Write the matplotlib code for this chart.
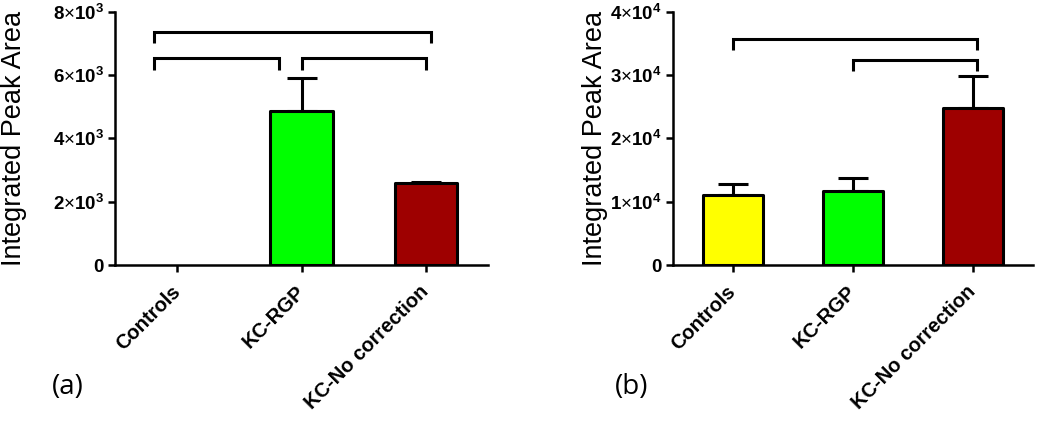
import matplotlib
matplotlib.use("Agg")
import matplotlib.pyplot as plt

plt.rcParams['font.family'] = ['Liberation Sans', 'DejaVu Sans']
plt.rcParams['mathtext.fontset'] = 'custom'
plt.rcParams['mathtext.rm'] = 'Liberation Sans'
plt.rcParams['mathtext.bf'] = 'Liberation Sans:bold'
plt.rcParams['mathtext.it'] = 'Liberation Sans:italic'

categories = ["Controls", "KC-RGP", "KC-No correction"]
colors = ["#FFFF00", "#00FF00", "#9E0000"]

# panel (a)
values_a = [0, 4850, 2580]
errors_a = [0, 1055, 50]
yticks_a = [0, 2000, 4000, 6000, 8000]
yticklabels_a = ["0", r"$\mathbf{2}{\times}\mathbf{10^{3}}$", r"$\mathbf{4}{\times}\mathbf{10^{3}}$",
                 r"$\mathbf{6}{\times}\mathbf{10^{3}}$", r"$\mathbf{8}{\times}\mathbf{10^{3}}$"]
# brackets: (x_left, x_right, y_top, y_leg_end)
brackets_a = [(-0.19, 2.04, 7350, 7020), (-0.19, 0.82, 6550, 6170), (1.0, 2.0, 6550, 6170)]

# panel (b)
values_b = [11050, 11690, 24750]
errors_b = [1700, 2000, 5100]
yticks_b = [0, 10000, 20000, 30000, 40000]
yticklabels_b = ["0", r"$\mathbf{1}{\times}\mathbf{10^{4}}$", r"$\mathbf{2}{\times}\mathbf{10^{4}}$",
                 r"$\mathbf{3}{\times}\mathbf{10^{4}}$", r"$\mathbf{4}{\times}\mathbf{10^{4}}$"]
brackets_b = [(0.0, 2.03, 35700, 33900), (1.0, 2.03, 32400, 30650)]

W, H = 1050, 426
fig = plt.figure(figsize=(W / 100, H / 100), dpi=100)

LW = 2.2


def panel(rect, values, errors, ymax, yticks, yticklabels, brackets):
    ax = fig.add_axes(rect)
    x = list(range(len(categories)))
    for i, (v, e, c) in enumerate(zip(values, errors, colors)):
        if v == 0:
            continue
        ax.bar(i, v, width=0.5, color=c, edgecolor="black", linewidth=LW,
               zorder=2, joinstyle="round")
        if e > 0:
            ax.errorbar(i, v, yerr=[[0], [e]], fmt="none", ecolor="black",
                        elinewidth=LW, capsize=11, capthick=LW, zorder=1)
    for (x0, x1, yt, yl) in brackets:
        ax.plot([x0, x0, x1, x1], [yl, yt, yt, yl], color="black", lw=LW,
                solid_joinstyle="miter", solid_capstyle="butt", clip_on=False)
    ax.set_xlim(-0.5, 2.5)
    ax.set_ylim(0, ymax)
    ax.set_yticks(yticks)
    ax.set_yticklabels(yticklabels, fontweight="bold", fontsize=13.5)
    ax.set_xticks(x)
    ax.set_xticklabels(categories, rotation=45, ha="right", va="center",
                       rotation_mode="anchor", fontweight="bold", fontsize=14.5)
    for s in ["top", "right"]:
        ax.spines[s].set_visible(False)
    for s in ["left", "bottom"]:
        ax.spines[s].set_linewidth(1.8)
    ax.tick_params(axis="both", width=1.8, length=5, direction="out")
    ax.tick_params(axis="y", pad=3)
    ax.tick_params(axis="x", pad=12)
    ax.set_ylabel("Integrated Peak Area", fontsize=19.5)
    return ax


bottom = (H - 265) / H
top = (H - 11.7) / H
axa = panel([115 / W, bottom, (488 - 115) / W, top - bottom], values_a, errors_a,
            8000, yticks_a, yticklabels_a, brackets_a)
axa.yaxis.set_label_coords(-0.235, 0.5)
axb = panel([673 / W, bottom, (1033 - 673) / W, top - bottom], values_b, errors_b,
            40000, yticks_b, yticklabels_b, brackets_b)
axb.yaxis.set_label_coords(-0.18, 0.5)

fig.text(68 / W, (H - 387) / H, "(a)", fontsize=20, ha="center", va="center",
         family=["Open Sans", "DejaVu Sans"])
fig.text(632 / W, (H - 387) / H, "(b)", fontsize=20, ha="center", va="center",
         family=["Open Sans", "DejaVu Sans"])

fig.savefig("out.png", dpi=100)
